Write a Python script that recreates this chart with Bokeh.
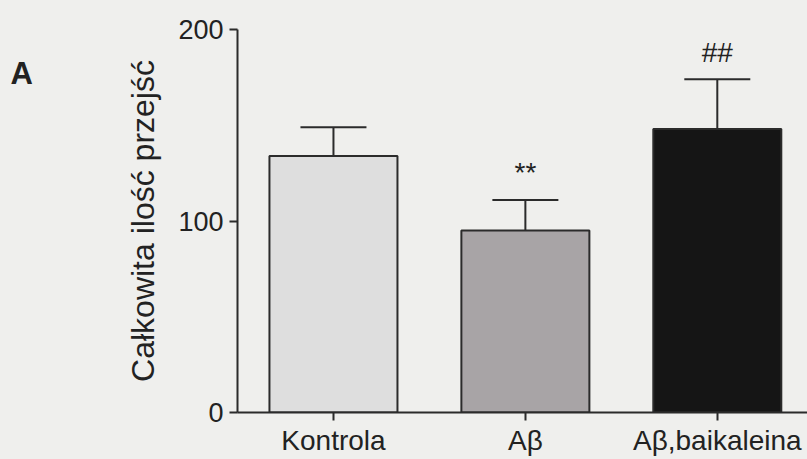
from bokeh.plotting import figure
from bokeh.layouts import row
from bokeh.models import ColumnDataSource, Whisker, TeeHead, FixedTicker, Range1d
from bokeh.embed import file_html
from bokeh.resources import INLINE
from bokeh.core.properties import value

categories = ["Kontrola", "Aβ", "Aβ,baikaleina"]
means = [134, 95, 148]
sem = [15, 16, 26]
marks = ["", "**", "##"]
fills = ["#dedede", "#a8a4a6", "#151515"]
y_ticks = [0, 100, 200]
panel_letter = "A"

pos = list(range(len(categories)))
upper = [m + s for m, s in zip(means, sem)]
src = ColumnDataSource(dict(x=pos, mean=means, upper=upper, fill=fills, mark=marks))

BG = "#efefed"
INK = "#2b2b2b"
TXT = "#222222"
FONT = "Liberation Sans"
H = 459

# narrow strip holding the panel letter (no title panel, so its frame fills it)
LW = 44
s = figure(width=LW, height=H, x_range=(0, 1), y_range=(0, 1),
           output_backend="svg", toolbar_location=None, title_location=None,
           x_axis_location=None, y_axis_location=None, min_border=0,
           background_fill_color=None, border_fill_color=None, outline_line_color=None)
s.grid.visible = False
s.text(x=[0], y=[1], text=[panel_letter], x_offset=10, y_offset=44,
       text_baseline="alphabetic", text_align="left", text_font=value(FONT),
       text_font_size="31px", text_font_style="bold", text_color=TXT)

p = figure(x_range=Range1d(-0.5, 2.47), y_range=(0, 200), width=807 - LW, height=H,
           output_backend="svg", toolbar_location=None,
           min_border_left=237 - LW, min_border_right=0, min_border_top=29, min_border_bottom=47,
           background_fill_color=None, border_fill_color=None, outline_line_color=None)

p.vbar(x="x", top="mean", width=0.667, source=src, fill_color="fill",
       line_color=INK, line_width=2)

w = Whisker(base="x", upper="upper", lower="mean", source=src,
            upper_head=TeeHead(size=66, line_width=2, line_color=INK),
            lower_head=None, line_width=2, line_color=INK)
p.add_layout(w)

p.text(x="x", y="upper", text="mark", source=src, text_align="center",
       text_baseline="alphabetic", y_offset=-27, text_font=value(FONT),
       text_font_size="28px", text_color=TXT)

p.grid.visible = False
for ax in (p.xaxis[0], p.yaxis[0]):
    ax.axis_line_color = INK
    ax.axis_line_width = 2
    ax.major_tick_line_color = INK
    ax.major_tick_line_width = 2
    ax.major_tick_out = 8
    ax.major_tick_in = 0
    ax.minor_tick_line_color = None
    ax.major_label_text_font = FONT
    ax.major_label_text_font_size = "27px"
    ax.major_label_text_color = TXT

p.xaxis.ticker = FixedTicker(ticks=pos)
p.xaxis.major_label_overrides = {i: c for i, c in zip(pos, categories)}
p.xaxis.major_label_text_font_size = "28px"
p.xaxis.major_label_standoff = 4

p.yaxis.ticker = FixedTicker(ticks=y_ticks)
p.yaxis.major_label_standoff = 6
p.yaxis.axis_label = "Całkowita ilość przejść"
p.yaxis.axis_label_text_font = FONT
p.yaxis.axis_label_text_font_size = "32px"
p.yaxis.axis_label_text_font_style = "normal"
p.yaxis.axis_label_text_color = TXT
p.yaxis.axis_label_standoff = 14

layout = row(s, p, spacing=0, styles={"background-color": BG})
open("out.html", "w").write(file_html(layout, INLINE))
